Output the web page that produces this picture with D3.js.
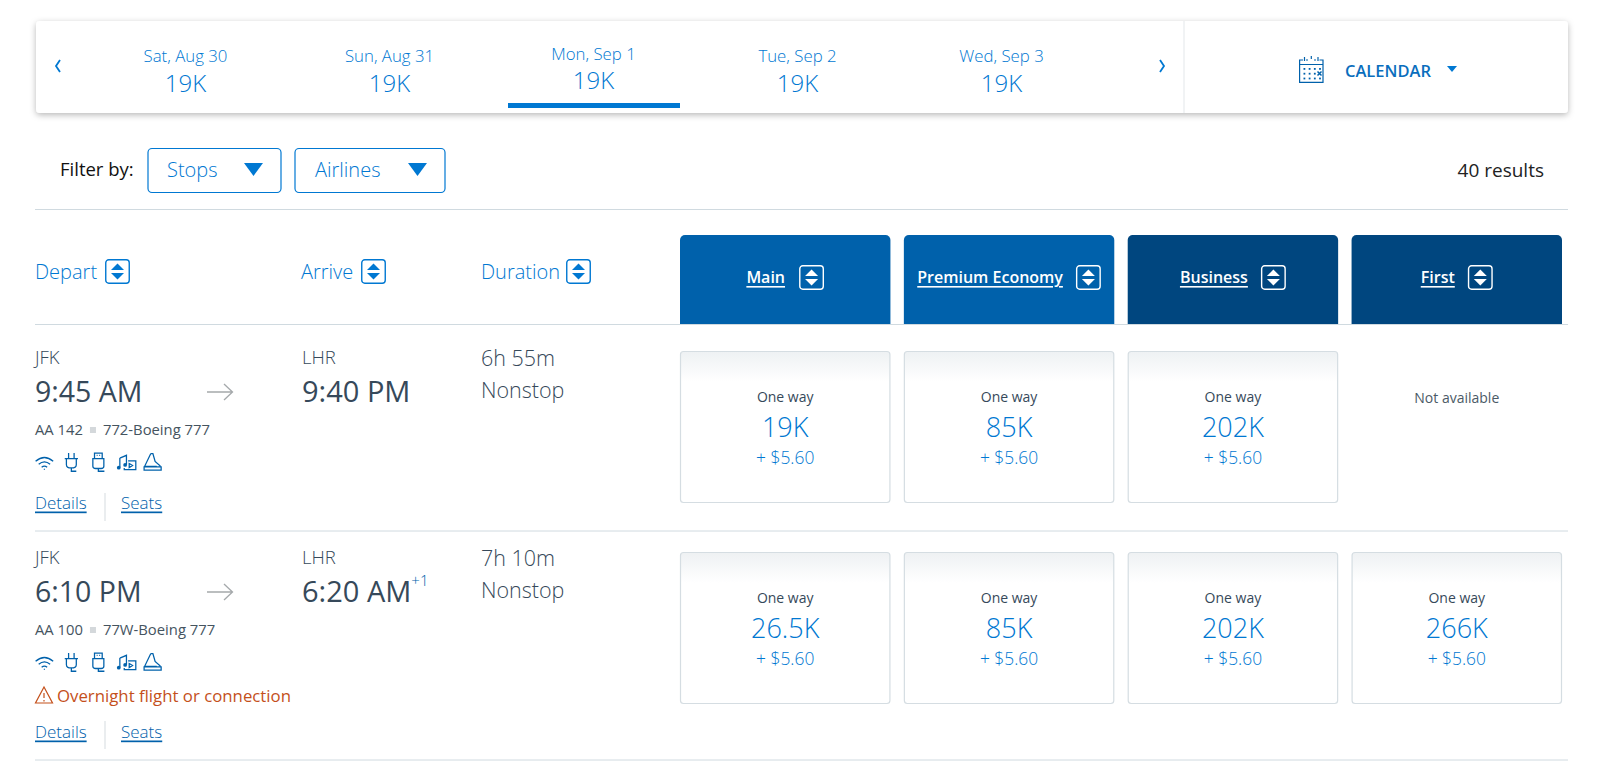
<!doctype html>
<html lang="en">
<head>
  <meta charset="utf-8">
  <title>Flight results</title>
  <script src="https://cdnjs.cloudflare.com/ajax/libs/d3/7.8.5/d3.min.js"></script>
</head>
<body style="overflow: hidden; margin: 0; background: #fff;">
  <script type="text/javascript">
    // values
    const dates = ["Sat, Aug 30", "Sun, Aug 31", "Mon, Sep 1", "Tue, Sep 2", "Wed, Sep 3"];
    const dateFares = ["19K", "19K", "19K", "19K", "19K"];
    const selectedDate = "Mon, Sep 1";
    const filters = ["Stops", "Airlines"];
    const resultCount = "40 results";
    const sortColumns = ["Depart", "Arrive", "Duration"];
    const cabins = ["Main", "Premium Economy", "Business", "First"];
    const flightNumbers = ["AA 142", "AA 100"];
    const aircraft = ["772-Boeing 777", "77W-Boeing 777"];
    const departTimes = ["9:45 AM", "6:10 PM"];
    const arriveTimes = ["9:40 PM", "6:20 AM"];
    const dayOffsets = ["", "+1"];
    const durations = ["6h 55m", "7h 10m"];
    const warnings = ["", "Overnight flight or connection"];
    const faresMain = ["19K", "26.5K"];
    const faresPremium = ["85K", "85K"];
    const faresBusiness = ["202K", "202K"];
    const faresFirst = [null, "266K"];
    const taxes = ["+ $5.60", "+ $5.60"];

    const blue = "#0078d2", navy = "#0061ab", dark = "#00467f", ink = "#36495a", rule = "#d0dae0";
    const fontFamily = "'Open Sans', sans-serif";

    const svg = d3.select("body").append("svg").attr("width", 1600).attr("height", 765)
      .style("display", "block").style("font-family", fontFamily);
    const defs = svg.append("defs");

    const shadow = defs.append("filter").attr("id", "cardShadow")
      .attr("x", "-2%").attr("y", "-20%").attr("width", "104%").attr("height", "140%");
    shadow.append("feDropShadow").attr("dx", 0).attr("dy", 2).attr("stdDeviation", 3)
      .attr("flood-color", "#000").attr("flood-opacity", 0.28);

    const fade = defs.append("linearGradient").attr("id", "fareFade").attr("x1", 0).attr("x2", 0).attr("y1", 0).attr("y2", 1);
    fade.append("stop").attr("offset", 0).attr("stop-color", "#eef1f3");
    fade.append("stop").attr("offset", 0.2).attr("stop-color", "#ffffff");

    function label(parent, x, y, str, size, color, o) {
      o = o || {};
      return parent.append("text").attr("x", x).attr("y", y)
        .attr("dominant-baseline", "central")
        .attr("text-anchor", o.anchor || "start")
        .attr("font-size", size).attr("font-weight", o.weight || 300)
        .attr("fill", color)
        .style("text-decoration", o.underline ? "underline" : null)
        .text(str);
    }

    function triangle(parent, x0, x1, y0, y1, color) {
      parent.append("path")
        .attr("d", `M${x0},${y0}H${x1}L${(x0 + x1) / 2},${y1}Z`)
        .attr("fill", color);
    }

    function sortIcon(parent, x, y, color) {
      const g = parent.append("g").attr("transform", `translate(${x},${y})`);
      g.append("rect").attr("x", 0.75).attr("y", 0.75).attr("width", 23.5).attr("height", 23.5).attr("rx", 3)
        .attr("fill", "none").attr("stroke", color).attr("stroke-width", 1.4);
      g.append("path").attr("d", "M12.5,4.5L19,11H6Z").attr("fill", color);
      g.append("path").attr("d", "M12.5,20.5L19,14H6Z").attr("fill", color);
    }

    // ---------- date strip
    svg.append("rect").attr("x", 36).attr("y", 21).attr("width", 1532).attr("height", 92).attr("rx", 4)
      .attr("fill", "#fff").attr("filter", "url(#cardShadow)");
    svg.append("line").attr("x1", 1184).attr("x2", 1184).attr("y1", 21).attr("y2", 113).attr("stroke", "#e3e7ea");

    const dateX = d3.scalePoint().domain(dates).range([185.5, 1001.5]);
    dates.forEach((d, i) => {
      const lift = d === selectedDate ? 2.5 : 0;
      label(svg, dateX(d), 55.5 - lift, d, 16.8, blue, { anchor: "middle" });
      label(svg, dateX(d), 82 - lift, dateFares[i], 24, blue, { anchor: "middle" });
    });
    svg.append("rect").attr("x", 508).attr("y", 103).attr("width", 172).attr("height", 5).attr("fill", blue);

    [[60, -4], [1160, 4]].forEach(([x, dir]) => {
      svg.append("path").attr("d", `M${x},60l${dir},6l${-dir},6`).attr("fill", "none").attr("stroke", blue).attr("stroke-width", 1.8);
    });

    const cal = svg.append("g").attr("transform", "translate(1299,55)").attr("fill", "none").attr("stroke", navy).attr("stroke-width", 1.2);
    cal.append("path").attr("d", "M4,5H0.6V27.4H24V5H20.5M0.6,9.5H24M7,5H9M15,5H17M5.5,2V6M12.3,1V4M19,2V6");
    d3.range(3).forEach(r => d3.range(4).forEach(c => {
      if (r === 1 && c === 3) return;
      cal.append("rect").attr("x", 4.5 + c * 5.2).attr("y", 13 + r * 4.8).attr("width", 1.8).attr("height", 1.8).attr("fill", navy).attr("stroke", "none");
    }));
    cal.append("path").attr("d", "M18.5,16.5l4,4m0,-4l-4,4").attr("stroke-width", 1.5);
    label(svg, 1345, 70, "CALENDAR", 16.5, "#0a6ebd", { weight: 600 });
    triangle(svg, 1447, 1457, 66, 72, blue);

    // ---------- filters
    label(svg, 60, 168, "Filter by:", 18.5, "#111", { weight: 400 });
    const filterBoxes = d3.scaleOrdinal().domain(filters).range([[148, 133, 19, 96], [295, 150, 20, 113]]);
    filters.forEach(f => {
      const [x, w, pad, tri] = filterBoxes(f);
      svg.append("rect").attr("x", x).attr("y", 148.5).attr("width", w).attr("height", 44).attr("rx", 4)
        .attr("fill", "#fff").attr("stroke", blue).attr("stroke-width", 1.2);
      label(svg, x + pad, 169, f, 20, blue);
      triangle(svg, x + tri, x + tri + 19, 163, 176, blue);
    });
    label(svg, 1544, 170, resultCount, 19, "#222", { anchor: "end", weight: 400 });
    svg.append("line").attr("x1", 35).attr("x2", 1568).attr("y1", 209.5).attr("y2", 209.5).attr("stroke", rule);

    // ---------- column heads
    const columnX = d3.scaleOrdinal().domain(sortColumns).range([35, 301, 481]);
    const columnIcon = d3.scaleOrdinal().domain(sortColumns).range([105, 361, 566]);
    sortColumns.forEach(c => {
      label(svg, columnX(c), 271, c, 20, blue);
      sortIcon(svg, columnIcon(c), 259, blue);
    });

    const cabinX = d3.scaleBand().domain(cabins).range([680, 1562]).paddingInner(0.06);
    const cabinIconGap = d3.scaleOrdinal().domain(cabins).range([14, 13, 13, 13]);
    cabins.forEach((c, i) => {
      const x = cabinX(c), w = cabinX.bandwidth();
      svg.append("path")
        .attr("d", `M${x},325V240a5,5 0 0 1 5,-5H${x + w - 5}a5,5 0 0 1 5,5V325Z`)
        .attr("fill", i < 2 ? navy : dark);
      const g = svg.append("g");
      const t = label(g, 0, 277, c, 16, "#fff", { weight: 600, underline: true });
      const tw = t.node().getComputedTextLength();
      const gap = cabinIconGap(c);
      const start = x + (w - tw - gap - 25) / 2;
      t.attr("x", start);
      sortIcon(g, start + tw + gap, 265, "#fff");
    });

    // ---------- flights
    const rowOffset = d3.scaleOrdinal().domain(flightNumbers).range([0, 200]);
    const cardTop = d3.scaleOrdinal().domain(flightNumbers).range([351, 552]);
    const ruleY = [324.5, 531, 760];
    ruleY.forEach(y => {
      svg.append("line").attr("x1", 35).attr("x2", 1568).attr("y1", y).attr("y2", y).attr("stroke", rule);
    });

    const amenities = [
      "M1,8.5Q9,1.5 17,8.5M3.8,11.2Q9,6.7 14.2,11.2M6.5,13.8Q9,11.8 11.5,13.8M9,15.2v1",
      "M6,1V6M11,1V6M2.5,6H14.5M4,6V11.5Q4,14.5 8.5,14.5Q13,14.5 13,11.5V6M8.5,14.5V17.5H13",
      "M5,1H12V6H5ZM7,3H7.8M9.3,3H10.1M3.5,6H13.5V13Q13.5,15 11,15H6Q3.5,15 3.5,13ZM8.5,15V17.5H14",
      "M3.5,5.5L9.5,3V11.5M3.5,5.5V14M11,8H18V16H7.5V14.5M12,10.5l3,1.8l-3,1.8Z",
      "M7,1.5L1.5,13H12.5M7,1.5L9,1.5L11,8.5L15.5,12.5V13.5M1,13V16.5H16.5V13.5H1"
    ];
    const amenityX = [34.5, 62, 89, 116, 143];
    const noteHeads = [[2.5, 14.3], [8.3, 11.8]];

    const fareSeries = [faresMain, faresPremium, faresBusiness, faresFirst];

    flightNumbers.forEach((fn, i) => {
      const dy = rowOffset(fn);
      const g = svg.append("g").attr("class", "flight");
      label(g, 35, 356 + dy, "JFK", 18.5, ink);
      label(g, 35, 390.5 + dy, departTimes[i], 28.5, ink, { weight: 400 });
      g.append("path").attr("d", `M207,${392 + dy}H232M224,${384 + dy}L232.5,${392 + dy}L224,${400 + dy}`)
        .attr("fill", "none").attr("stroke", "#a5a9ab").attr("stroke-width", 1.3);
      const fnText = label(g, 35, 429 + dy, fn, 14.8, "#45545f", { weight: 400 });
      const fnW = fnText.node().getComputedTextLength();
      g.append("rect").attr("x", 35 + fnW + 7).attr("y", 427 + dy).attr("width", 6).attr("height", 6).attr("fill", "#d4d8db");
      label(g, 35 + fnW + 20, 429 + dy, aircraft[i], 14.8, "#45545f", { weight: 400 });

      amenities.forEach((p, k) => {
        const ic = g.append("g").attr("transform", `translate(${amenityX[k]},${452 + dy}) scale(1.1)`);
        ic.append("path").attr("d", p).attr("fill", "none").attr("stroke", navy).attr("stroke-width", 1.15);
        if (k === 3) {
          noteHeads.forEach(([nx, ny]) => ic.append("circle").attr("cx", nx).attr("cy", ny).attr("r", 1.7).attr("fill", navy));
        }
      });

      let linkY = 502;
      let sepTop = 493;
      if (warnings[i]) {
        g.append("path").attr("d", `M44,${687}L52.5,${703}H35.5ZM44,${693}V${698}M44,${700}V${701.5}`)
          .attr("fill", "none").attr("stroke", "#c4501b").attr("stroke-width", 1.2);
        label(g, 57, 695, warnings[i], 16.8, "#c4501b", { weight: 400 });
        linkY = 531;
        sepTop = 521;
      }
      label(g, 35, linkY + dy, "Details", 17, navy, { underline: true });
      g.append("line").attr("x1", 105).attr("x2", 105).attr("y1", sepTop + dy).attr("y2", sepTop + dy + 28).attr("stroke", "#e3e7ea").attr("stroke-width", 1.5);
      label(g, 121, linkY + dy, "Seats", 17, navy, { underline: true });

      label(g, 302, 356 + dy, "LHR", 18.5, ink);
      const arr = label(g, 302, 390.5 + dy, arriveTimes[i], 29, ink, { weight: 400 });
      if (dayOffsets[i]) {
        label(g, 302 + arr.node().getComputedTextLength(), 380 + dy, dayOffsets[i], 15, navy);
      }
      label(g, 481, 357.5 + dy, durations[i], 21.5, ink);
      label(g, 481, 389.5 + dy, "Nonstop", 21.5, ink);

      cabins.forEach((c, k) => {
        const value = fareSeries[k][i];
        const x = cabinX(c), w = cabinX.bandwidth(), cx = x + w / 2, top = cardTop(fn);
        if (value === null) {
          label(g, cx, top + 46, "Not available", 14, "#4b5a66", { anchor: "middle", weight: 400 });
          return;
        }
        g.append("rect").attr("x", x + 0.5).attr("y", top + 0.5).attr("width", w - 1).attr("height", 151).attr("rx", 3)
          .attr("fill", "url(#fareFade)").attr("stroke", "#d5dde2").attr("stroke-width", 1.2);
        label(g, cx, top + 45.5, "One way", 14, "#36495a", { anchor: "middle", weight: 400 });
        label(g, cx, top + 75, value, 27, blue, { anchor: "middle" });
        label(g, cx, top + 105.5, taxes[i], 17.4, blue, { anchor: "middle" });
      });
    });
  </script>
</body>
</html>
